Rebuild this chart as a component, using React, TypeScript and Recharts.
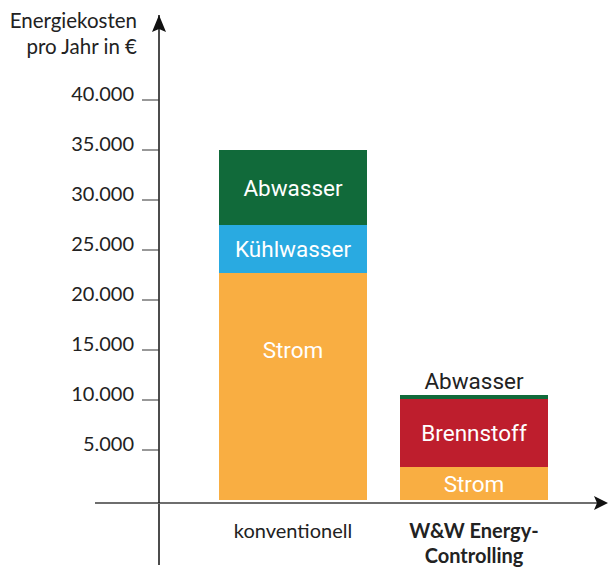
import { BarChart, Bar, XAxis, YAxis, ReferenceLine, LabelList } from 'recharts';

const categories = ['konventionell', 'W&W Energy-Controlling'];
const strom = [22700, 3300];
const kuehlwasser = [4800, 0];
const brennstoff = [0, 6800];
const abwasser = [7500, 400];
const yTicks = [5000, 10000, 15000, 20000, 25000, 30000, 35000, 40000];

const data = categories.map((name, i) => ({
  name,
  strom: strom[i],
  kuehlwasser: kuehlwasser[i],
  brennstoff: brennstoff[i],
  abwasser: abwasser[i],
}));

const axisFont = 'Lato, "Open Sans", sans-serif';
const barFont = 'Roboto, sans-serif';

const fmt = (v: number) => v.toLocaleString('de-DE');

const YTick = ({ x, y, payload }: any) => (
  <text x={x} y={y - 7} textAnchor="end" dominantBaseline="central" fontSize={20} fontFamily={axisFont} fill="#222">
    {fmt(payload.value)}
  </text>
);

const XTick = ({ x, y, payload, index }: any) => {
  const lines = String(payload.value).split(/(?<=-)/);
  const bold = index === 1;
  return (
    <text x={x} textAnchor="middle" fontSize={20} fontFamily={axisFont} fontWeight={bold ? 700 : 400} fill="#222">
      {lines.map((l, i) => (
        <tspan key={i} x={x} y={y + 35 + i * 25}>{l}</tspan>
      ))}
    </text>
  );
};

const segLabel = (name: string, mode: 'center' | 'strom' | 'abwasser') => (props: any) => {
  const vb = props.viewBox ?? props;
  const { x, y, width, height } = vb;
  if (!props.value) return null;
  let cy = y + height / 2;
  let fill = '#fff';
  if (mode === 'strom' && height > 100) cy = y + 77;
  if (mode === 'abwasser' && height < 20) {
    cy = y - 14;
    fill = '#222';
  }
  return (
    <text x={x + width / 2} y={cy} textAnchor="middle" dominantBaseline="central" fontSize={22.5} fontFamily={barFont} fill={fill}>
      {name}
    </text>
  );
};

// arrowhead on top of the value axis
const TopArrow = (p: any) => (
  <path d={`M${p.x1},${p.y1} L${p.x1 + 7},${p.y1 + 17} L${p.x1},${p.y1 + 14} L${p.x1 - 7},${p.y1 + 17} Z`} fill="#111" />
);

// category axis line, reaching left past the value axis, plus the value axis stub below it
const BaseAxis = (p: any) => {
  const left = Math.min(p.x1, p.x2);
  const right = Math.max(p.x1, p.x2);
  return (
    <g>
      <line x1={left} x2={left} y1={p.y1} y2={p.y1 + 62} stroke="#111" strokeWidth={1.5} />
      <line x1={left - 64} x2={right - 6} y1={p.y1} y2={p.y1} stroke="#6e6e6e" strokeWidth={2} />
      <path d={`M${right + 3},${p.y1} L${right - 11},${p.y1 - 7} L${right - 8},${p.y1} L${right - 11},${p.y1 + 7} Z`} fill="#111" />
    </g>
  );
};

const AxisTitle = () => (
  <text textAnchor="end" fontSize={20.5} fontFamily={axisFont} fill="#222">
    <tspan x={137} y={28}>Energiekosten</tspan>
    <tspan x={137} y={54}>pro Jahr in €</tspan>
  </text>
);

export default function App() {
  return (
    <div style={{ position: 'absolute', left: 0, top: 0, background: '#fff' }}>
      <BarChart width={609} height={569} data={data} margin={{ top: 15, right: 4, bottom: 0, left: 0 }} barCategoryGap={16.5}>
        <XAxis
          dataKey="name"
          padding={{ left: 43.5, right: 40.5 }}
          axisLine={false}
          tickLine={false}
          tickSize={0}
          tickMargin={0}
          height={66}
          tick={<XTick />}
          interval={0}
        />
        <YAxis
          width={159}
          domain={[-300, 48500]}
          ticks={yTicks}
          allowDataOverflow
          axisLine={{ stroke: '#111', strokeWidth: 1.5 }}
          tickLine={{ stroke: '#333', strokeWidth: 1 }}
          tickSize={17}
          tickMargin={8}
          tick={<YTick />}
          label={<AxisTitle />}
        />
        <Bar dataKey="strom" stackId="a" fill="#f9ae42" isAnimationActive={false}>
          <LabelList dataKey="strom" content={segLabel('Strom', 'strom')} />
        </Bar>
        <Bar dataKey="kuehlwasser" stackId="a" fill="#29aae1" isAnimationActive={false}>
          <LabelList dataKey="kuehlwasser" content={segLabel('Kühlwasser', 'center')} />
        </Bar>
        <Bar dataKey="brennstoff" stackId="a" fill="#be1e2d" isAnimationActive={false}>
          <LabelList dataKey="brennstoff" content={segLabel('Brennstoff', 'center')} />
        </Bar>
        <Bar dataKey="abwasser" stackId="a" fill="#116a3a" isAnimationActive={false}>
          <LabelList dataKey="abwasser" content={segLabel('Abwasser', 'abwasser')} />
        </Bar>
        <ReferenceLine y={-300} ifOverflow="visible" shape={BaseAxis} />
        <ReferenceLine y={48500} ifOverflow="visible" shape={TopArrow} />
      </BarChart>
    </div>
  );
}
